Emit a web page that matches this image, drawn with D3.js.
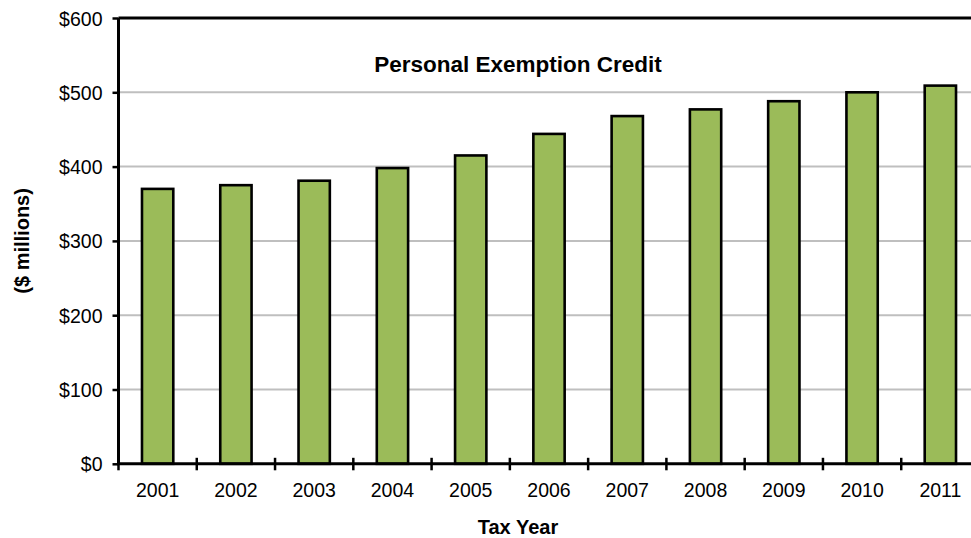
<!DOCTYPE html>
<html>
<head>
<meta charset="utf-8">
<script src="https://cdn.jsdelivr.net/npm/d3@7"></script>
<style>
  html, body { margin: 0; padding: 0; background: #fff; }
  svg { display: block; font-family: "Liberation Sans", Arial, sans-serif; }
</style>
</head>
<body>
<svg id="chart" width="971" height="538"></svg>
<script>
const years = ["2001","2002","2003","2004","2005","2006","2007","2008","2009","2010","2011"];
const values = [370, 375, 381, 398, 415, 444, 468, 477, 488, 500, 509];
const yTicks = [0, 100, 200, 300, 400, 500, 600];
const gridTicks = [100, 200, 300, 400, 500];
const titleText = "Personal Exemption Credit";
const xTitle = "Tax Year";
const yTitle = "($ millions)";

(function () {
const svg = d3.select("#chart");
const pLeft = 118.5, pRight = 979.5, pTop = 18, pBottom = 463.8;

const x = d3.scaleBand().domain(years).range([pLeft, pRight]).padding(0);
const y = d3.scaleLinear().domain([0, 600]).range([pBottom, pTop]);

// gridlines
svg.append("g").selectAll("line").data(gridTicks).join("line")
  .attr("x1", pLeft).attr("x2", pRight)
  .attr("y1", d => y(d)).attr("y2", d => y(d))
  .attr("stroke", "#bfbfbf").attr("stroke-width", 2);

// top border
svg.append("line").attr("x1", pLeft).attr("x2", pRight)
  .attr("y1", y(600)).attr("y2", y(600))
  .attr("stroke", "#000").attr("stroke-width", 3);

// bars
const barFrac = 0.40;
svg.append("g").selectAll("rect").data(values).join("rect")
  .attr("x", (d, i) => x(years[i]) + x.bandwidth() * (1 - barFrac) / 2)
  .attr("width", x.bandwidth() * barFrac)
  .attr("y", d => y(d))
  .attr("height", d => y(0) - y(d))
  .attr("fill", "#9bbb59")
  .attr("stroke", "#000")
  .attr("stroke-width", 2.6);

// y axis
const yAxis = svg.append("g").attr("transform", `translate(${pLeft},0)`)
  .call(d3.axisLeft(y).tickValues(yTicks).tickFormat(d => "$" + d).tickSize(6).tickPadding(10));
yAxis.select(".domain").attr("stroke", "#000").attr("stroke-width", 3)
  .attr("d", `M0,${pTop}V${pBottom}`);
yAxis.selectAll(".tick line").attr("stroke", "#000").attr("stroke-width", 2.5);
yAxis.selectAll(".tick text").attr("font-size", "19.5px").attr("fill", "#000")
  .attr("dy", "0.36em");

// x axis
const bounds = years.map(yr => x(yr)).concat([pRight]);
const xAxis = svg.append("g");
xAxis.append("line").attr("x1", pLeft - 1.5).attr("x2", pRight)
  .attr("y1", pBottom).attr("y2", pBottom)
  .attr("stroke", "#000").attr("stroke-width", 3);
xAxis.selectAll("line.tk").data(bounds).join("line").attr("class", "tk")
  .attr("x1", d => d).attr("x2", d => d)
  .attr("y1", pBottom - 6).attr("y2", pBottom + 6.5)
  .attr("stroke", "#000").attr("stroke-width", 2.5);
xAxis.selectAll("text").data(years).join("text")
  .attr("x", d => x(d) + x.bandwidth() / 2)
  .attr("y", 497)
  .attr("text-anchor", "middle")
  .attr("font-size", "19.5px")
  .attr("fill", "#000")
  .text(d => d);

// titles
svg.append("text").attr("x", 518).attr("y", 72).attr("text-anchor", "middle")
  .attr("font-size", "22.5px").attr("font-weight", "bold").attr("fill", "#000")
  .text(titleText);
svg.append("text").attr("x", 518).attr("y", 534).attr("text-anchor", "middle")
  .attr("font-size", "20px").attr("font-weight", "bold").attr("fill", "#000")
  .text(xTitle);
svg.append("text")
  .attr("transform", `translate(29,${(pTop + pBottom) / 2}) rotate(-90)`)
  .attr("text-anchor", "middle")
  .attr("font-size", "20px").attr("font-weight", "bold").attr("fill", "#000")
  .text(yTitle);
})();
</script>
</body>
</html>
